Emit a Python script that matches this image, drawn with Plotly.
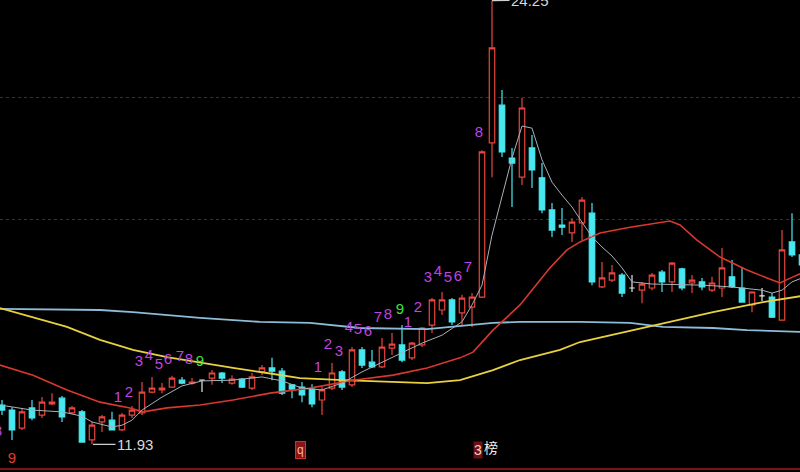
import plotly.graph_objects as go

# ---------------- data ----------------
idx = list(range(81))
opens = [13.02,12.88,12.38,12.94,12.74,13.05,13.21,12.80,12.83,12.05,
         12.55,12.60,12.33,12.74,12.80,13.38,13.44,13.52,13.71,13.63,
         13.71,13.77,13.91,13.63,13.74,13.49,13.94,14.05,13.96,13.58,
         13.52,13.46,13.16,13.49,13.94,13.58,14.55,14.21,14.08,14.60,
         14.69,14.33,14.69,15.24,15.66,15.94,15.58,15.74,16.02,20.30,
         21.35,19.88,19.35,20.16,19.33,18.44,18.02,17.80,18.08,18.35,
         16.30,16.49,16.63,16.27,16.21,16.27,16.71,16.44,16.80,16.41,
         16.44,16.21,16.27,16.58,16.27,15.80,16.05,16.02,15.38,17.55,
         17.19]
highs = [13.16,12.96,12.94,13.16,13.24,13.35,13.27,12.99,12.88,12.55,
         12.74,12.83,12.80,12.99,13.66,13.80,13.63,13.83,13.80,13.77,
         13.72,13.99,13.94,13.85,13.77,13.91,14.13,14.33,14.05,13.58,
         13.66,13.60,13.52,14.19,13.99,14.63,14.63,14.55,14.88,15.02,
         15.24,14.77,15.19,15.99,16.16,15.99,16.08,16.13,20.10,24.25,
         21.77,20.16,21.55,20.52,19.74,18.63,18.49,18.21,18.80,18.63,
         16.99,16.91,16.69,16.63,16.44,16.69,16.77,16.99,16.83,16.63,
         16.55,16.58,17.38,17.05,16.85,16.18,16.27,16.13,17.88,18.35,
         17.30]
lows = [12.74,12.05,12.33,12.60,12.66,13.02,12.55,12.77,11.98,11.93,
        12.27,12.31,12.30,12.66,12.74,13.35,13.35,13.51,13.60,13.58,
        13.38,13.58,13.63,13.58,13.49,13.44,13.85,13.71,13.30,13.21,
        13.10,12.96,12.74,13.44,13.44,13.52,14.05,14.05,14.05,14.41,
        14.21,14.27,14.63,15.02,15.52,15.24,15.24,15.19,15.99,19.35,
        19.91,18.52,19.13,19.05,18.35,17.69,17.74,17.55,17.60,16.35,
        16.27,16.44,16.02,16.16,15.85,16.21,16.16,16.16,16.21,16.13,
        16.21,16.16,16.02,16.27,15.86,15.60,15.91,15.44,15.36,17.13,
        16.85]
closes = [12.88,12.33,12.83,12.66,13.10,13.10,12.69,12.94,11.99,12.46,
          12.69,12.33,12.74,12.88,13.38,13.49,13.49,13.77,13.63,13.66,
          13.71,13.91,13.77,13.74,13.52,13.80,14.05,13.96,13.35,13.46,
          13.30,13.05,13.44,13.91,13.52,14.55,14.13,14.08,14.63,14.71,
          14.27,14.74,15.16,15.94,15.94,15.33,15.99,16.02,20.05,22.94,
          20.05,19.74,21.27,19.55,18.44,17.88,17.96,18.10,18.71,16.44,
          16.55,16.69,16.13,16.27,16.38,16.63,16.44,16.96,16.27,16.49,
          16.30,16.41,16.83,16.30,15.88,16.16,16.05,15.46,17.33,17.19,
          16.91]
white_doji = [20, 63, 76]

ma5_x = [-0.2,3,6,8,9,11,12,13,14,16,18,20,23,26,28,30,32,34,36,38,40,42,44,46,
         47,48,49,50,51,52,53,54,55,56,57,58,59,60,61,62,63,65,70,73,76,77,78,79,80]
ma5_y = [13.02,12.88,12.83,12.71,12.55,12.41,12.46,12.60,12.88,13.24,13.55,13.69,
         13.71,13.80,13.69,13.49,13.44,13.63,13.94,14.21,14.49,14.74,14.96,15.33,
         15.80,16.35,17.74,18.85,19.88,20.77,20.71,19.83,19.21,18.85,18.52,18.10,
         17.69,17.41,17.16,16.83,16.44,16.38,16.35,16.30,16.21,16.13,16.21,16.44,16.55]

red_x = [-0.2,3.1,6.5,9.8,12.8,14.1,16.5,19.8,23.1,26.8,30.8,35.1,39.1,42.5,45.8,
         47.1,49.1,51.8,54.8,56.5,57.8,59.8,62.8,66.8,67.8,69.5,71.8,74.5,76.5,77.8,79.1,80.0]
red_y = [14.13,13.85,13.44,13.10,12.94,12.83,12.94,13.02,13.16,13.35,13.49,13.71,
         13.85,14.05,14.33,14.49,15.10,15.80,16.83,17.33,17.55,17.80,17.96,18.13,
         18.02,17.60,17.13,16.77,16.55,16.41,16.58,16.69]

yel_x = [-0.2,3.1,6.5,9.8,13.1,16.5,19.8,23.1,26.5,29.8,34.1,39.1,42.5,45.8,49.1,
         51.8,55.8,57.8,61.8,66.1,71.1,76.1,80.0]
yel_y = [15.71,15.46,15.19,14.83,14.55,14.35,14.19,14.05,13.91,13.77,13.71,13.66,
         13.63,13.71,13.99,14.27,14.55,14.77,15.02,15.30,15.60,15.88,16.05]

blu_x = [-0.2,9.8,13.1,16.5,19.8,25.8,30.8,35.8,42.5,49.1,51.8,57.8,62.8,66.1,71.1,74.5,80.0]
blu_y = [15.69,15.66,15.60,15.52,15.44,15.33,15.30,15.16,15.13,15.30,15.33,15.33,
         15.30,15.19,15.16,15.10,15.05]

td_text = ["8","9","1","2","3","4","5","6","7","8","9",
           "1","2","3","4","5","6","7","8","9","1","2","3","4","5","6","7","8"]
td_x = [-0.4,1.0,11.6,12.7,13.7,14.7,15.7,16.6,17.8,18.7,19.8,
        31.6,32.6,33.7,34.7,35.6,36.6,37.6,38.6,39.8,40.6,41.6,42.6,43.6,44.6,45.6,46.6,47.7]
td_y = [12.27,11.52,13.21,13.35,14.21,14.38,14.13,14.27,14.35,14.27,14.21,
        14.05,14.69,14.49,15.16,15.10,15.05,15.44,15.52,15.66,15.30,15.71,
        16.55,16.71,16.55,16.58,16.83,20.58]
td_kind = ["p","r","p","p","p","p","p","p","p","p","g",
           "p","p","p","p","p","p","p","p","g","p","p","p","p","p","p","p","p"]

low_label = (9.1, 11.93, "11.93")
high_label = (49, 24.25, "24.25")
grid_prices = [18.16, 21.55]

# ---------------- styles ----------------
RED = "#e8453c"
CYAN = "#48e8f0"
PURPLE = "#c044e0"
GREEN = "#3ee03e"
kind_color = {"p": PURPLE, "r": "#e03a30", "g": GREEN}

def keep(vals, cond):
    return [v if cond(i) else None for i, v in enumerate(vals)]

is_main = lambda i: i not in white_doji
is_doji = lambda i: i in white_doji

fig = go.Figure()

fig.add_trace(go.Scatter(x=blu_x, y=blu_y, mode="lines",
                         line=dict(color="#8cbcd8", width=1.8), hoverinfo="skip"))
fig.add_trace(go.Scatter(x=yel_x, y=yel_y, mode="lines",
                         line=dict(color="#e8d040", width=1.8), hoverinfo="skip"))
fig.add_trace(go.Scatter(x=red_x, y=red_y, mode="lines",
                         line=dict(color="#d8382e", width=1.6), hoverinfo="skip"))

fig.add_trace(go.Candlestick(
    x=idx, open=keep(opens, is_main), high=keep(highs, is_main),
    low=keep(lows, is_main), close=keep(closes, is_main),
    increasing=dict(line=dict(color=RED, width=1.2), fillcolor="#000000"),
    decreasing=dict(line=dict(color=CYAN, width=1.2), fillcolor=CYAN),
    hoverinfo="skip"))
fig.add_trace(go.Candlestick(
    x=idx, open=keep(opens, is_doji), high=keep(highs, is_doji),
    low=keep(lows, is_doji), close=keep(closes, is_doji),
    increasing=dict(line=dict(color="#e8e8e8", width=1.2), fillcolor="#e8e8e8"),
    decreasing=dict(line=dict(color="#e8e8e8", width=1.2), fillcolor="#e8e8e8"),
    hoverinfo="skip"))

fig.add_trace(go.Scatter(x=ma5_x, y=ma5_y, mode="lines",
                         line=dict(color="#a8b0b8", width=1), hoverinfo="skip"))

fig.add_trace(go.Scatter(
    x=td_x, y=td_y, mode="text", text=td_text,
    textfont=dict(family="Liberation Sans", size=15,
                  color=[kind_color[k] for k in td_kind]),
    hoverinfo="skip"))

for (lx, ly, lt), ax, ay in [(low_label, 42, 0), (high_label, 38, -10)]:
    fig.add_annotation(x=lx, y=ly, text=lt, showarrow=True, ax=ax, ay=ay,
                       arrowhead=0, arrowwidth=1.2, arrowcolor="#d0d0d0", standoff=0,
                       font=dict(family="Liberation Sans", size=15, color="#d8d8d8"))

# bottom strip items
fig.add_shape(type="line", xref="paper", yref="paper", x0=0, x1=1, y0=0.0064, y1=0.0064,
              line=dict(color="#7a1515", width=2))
fig.add_annotation(xref="paper", yref="paper", x=0.375, y=0.027, text="q", showarrow=False,
                   bgcolor="#8a1414", bordercolor="#d03030", borderwidth=1, borderpad=1,
                   font=dict(family="Liberation Sans", size=12, color="#ffb0b0"))
fig.add_annotation(xref="paper", yref="paper", x=0.598, y=0.027, text="3", showarrow=False,
                   bgcolor="#701010", borderpad=0,
                   font=dict(family="Liberation Sans", size=14, color="#f0d0d0"))
fig.add_annotation(xref="paper", yref="paper", x=0.614, y=0.027, text="榜", showarrow=False,
                   font=dict(family="Noto Sans CJK SC", size=14, color="#f0f0f0"))

fig.update_layout(
    width=800, height=472, margin=dict(l=0, r=0, t=0, b=0),
    paper_bgcolor="#000000", plot_bgcolor="#000000", showlegend=False,
    boxgap=0.22,
    xaxis=dict(range=[-0.2, 79.8], visible=False, rangeslider=dict(visible=False)),
    yaxis=dict(range=[11.16, 24.27], tickvals=grid_prices, showticklabels=False,
               showgrid=True, gridcolor="#6a1c1c", griddash="dot", gridwidth=1,
               zeroline=False, showline=False),
)

fig.write_html("out.html", config={"displayModeBar": False},
               post_script="document.body.style.margin='0';document.body.style.background='#000';")
